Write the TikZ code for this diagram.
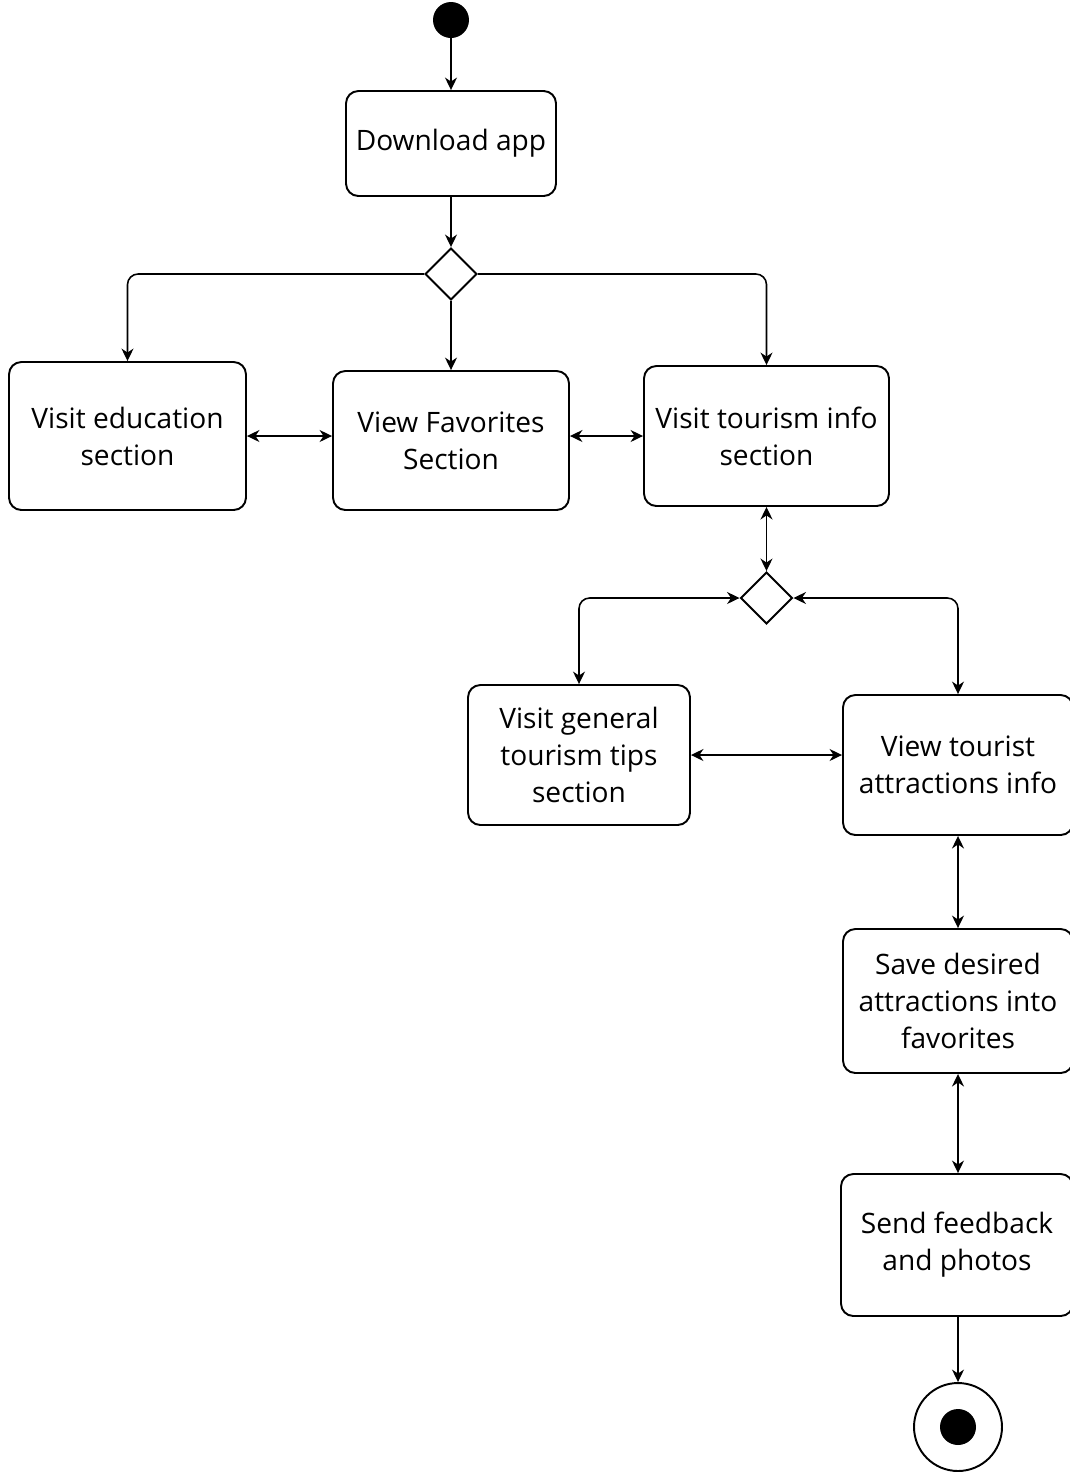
\documentclass[tikz,border=0pt]{standalone}
\usepackage{fontspec}
\setmainfont{Open Sans}
\usetikzlibrary{arrows.meta,positioning,shapes.geometric}
\tikzset{
    every node/.style={font=\fontsize{16}{21}\selectfont},
    act/.style={rectangle,rounded corners=7pt,draw,line width=1.1pt,align=center,inner sep=2pt},
    choice/.style={diamond,draw,line width=1.1pt,minimum size=1.04cm,inner sep=0pt},
    startdot/.style={circle,fill=black,minimum size=0.72cm,inner sep=0pt},
    enddot/.style={circle,draw,line width=1.1pt,minimum size=1.76cm,inner sep=0pt},
    flow/.style={draw,-{Stealth[length=2.5mm,width=2.4mm,inset=0.8mm]},line width=0.9pt,rounded corners=6pt},
    twoway/.style={flow,{Stealth[length=2.5mm,width=2.4mm,inset=0.8mm]}-{Stealth[length=2.5mm,width=2.4mm,inset=0.8mm]}}
}

\begin{document}
\begin{tikzpicture}[x=0.02cm,y=-0.02cm]
    \useasboundingbox (0,0) rectangle (1070,1472);
    % start and first step
    \node[startdot] (start) at (451,20) {};
    \node[act,minimum width=4.2cm,minimum height=2.1cm] (dl) at (451,143.5) {Download app};
    \node[choice] (c1) at (451,274) {};
    % three sections
    \node[act,minimum width=4.74cm,minimum height=2.96cm] (edu) at (127.5,436) {Visit education\\section};
    \node[act,minimum width=4.72cm,minimum height=2.78cm] (fav) at (451,440.5) {View Favorites\\Section};
    \node[act,minimum width=4.9cm,minimum height=2.8cm] (tour) at (766.5,436) {Visit tourism info\\section};
    \node[choice] (c2) at (766.5,598) {};
    % tourism branch
    \node[act,minimum width=4.44cm,minimum height=2.8cm] (tips) at (579,755) {Visit general\\tourism tips\\section};
    \node[act,minimum width=4.6cm,minimum height=2.8cm] (sight) at (958,765) {View tourist\\attractions info};
    \node[act,minimum width=4.6cm,minimum height=2.88cm] (save) at (958,1001) {Save desired\\attractions into\\favorites};
    \node[act,minimum width=4.64cm,minimum height=2.84cm] (send) at (957,1245) {Send feedback\\and photos};
    \node[enddot] (stop) at (958,1427) {};
    \node[startdot] at (stop) {};

    \draw[flow] (start) -- (dl);
    \draw[flow] (dl) -- (c1);
    \draw[flow] (c1.west) -| (edu.north);
    \draw[flow] (c1) -- (fav);
    \draw[flow] (c1.east) -| (tour.north);
    \draw[twoway] (edu.east) -- (edu.east -| fav.west);
    \draw[twoway] (tour.west -| fav.east) -- (tour.west);
    \draw[twoway] (tour) -- (c2);
    \draw[twoway] (c2.west) -| (tips.north);
    \draw[twoway] (c2.east) -| (sight.north);
    \draw[twoway] (tips.east) -- (tips.east -| sight.west);
    \draw[twoway] (sight) -- (save);
    \draw[twoway] (save.south) -- (save.south |- send.north);
    \draw[flow] (send.south -| stop) -- (stop);
\end{tikzpicture}
\end{document}
